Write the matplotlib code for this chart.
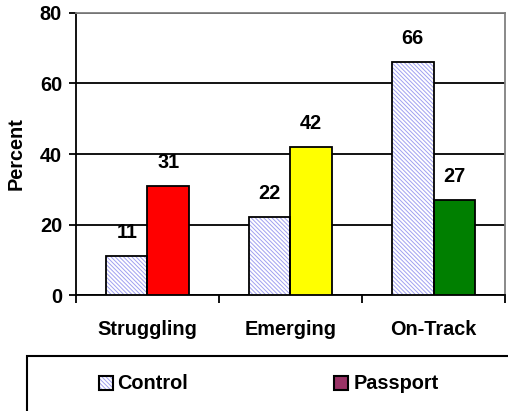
import numpy as np
import matplotlib
matplotlib.use("Agg")
import matplotlib.pyplot as plt
from matplotlib.patches import Rectangle

categories = ["Struggling", "Emerging", "On-Track"]
control = [11, 22, 66]
passport = [31, 42, 27]
passport_colors = ["#FF0000", "#FFFF00", "#007F00"]

plt.rcParams["font.family"] = ["Liberation Sans", "DejaVu Sans"]
plt.rcParams["font.weight"] = "bold"
plt.rcParams["hatch.linewidth"] = 0.7

FS = 14.3
HATCH_C = "#A0A0F0"

fig = plt.figure(figsize=(5.08, 4.11), dpi=100)
ax = fig.add_axes([0.1496, 0.2822, 0.8445, 0.6862])

x = np.arange(len(categories))
w = 0.29

# control bars: hatch drawn in light blue, outline drawn on top in black
ax.bar(x - w / 2, control, w, facecolor="white", edgecolor=HATCH_C,
       linewidth=0, hatch="\\\\\\\\\\\\\\\\", zorder=3)
ax.bar(x - w / 2, control, w, fill=False, edgecolor="black",
       linewidth=1.3, zorder=4)
ax.bar(x + w / 2, passport, w, color=passport_colors, edgecolor="black",
       linewidth=1.3, zorder=3)

for xi, v in zip(x - w / 2, control):
    ax.annotate(str(v), (xi, v), xytext=(0, 17), textcoords="offset points",
                ha="center", va="center", fontsize=FS, fontweight="bold")
for xi, v in zip(x + w / 2, passport):
    ax.annotate(str(v), (xi, v), xytext=(0, 17), textcoords="offset points",
                ha="center", va="center", fontsize=FS, fontweight="bold")

ax.set_xlim(-0.5, len(categories) - 0.5)
ax.set_ylim(0, 80)
ax.set_yticks([0, 20, 40, 60, 80])
ax.set_xticks(x)
ax.set_xticklabels(categories, fontsize=FS, fontweight="bold")
ax.set_xticks(np.arange(-0.5, len(categories)), minor=True)
ax.tick_params(axis="x", which="major", length=0, pad=18)
ax.tick_params(axis="x", which="minor", length=6, width=1.3, direction="out")
ax.tick_params(axis="y", length=5, width=1.3, labelsize=FS, pad=5)
for lab in ax.get_yticklabels():
    lab.set_fontweight("bold")

ax.grid(axis="y", color="black", linewidth=1.3, zorder=0)
ax.set_axisbelow(True)
ax.set_ylabel("Percent", fontsize=FS, fontweight="bold", labelpad=10)

ax.spines["left"].set_linewidth(1.3)
ax.spines["bottom"].set_linewidth(1.3)
ax.spines["top"].set_color("#808080")
ax.spines["right"].set_color("#808080")
ax.spines["top"].set_linewidth(1.3)
ax.spines["right"].set_linewidth(1.3)

# legend box, cut off by the figure edge
fig.patches.append(Rectangle((27 / 508, -0.2), 1.0, 0.2 + (411 - 356) / 411,
                             transform=fig.transFigure, fill=False,
                             edgecolor="black", linewidth=1.5))
fig.patches.append(Rectangle((99 / 508, 21 / 411), 14 / 508, 14 / 411,
                             transform=fig.transFigure, facecolor="white",
                             edgecolor=HATCH_C, linewidth=0,
                             hatch="\\\\\\\\\\\\\\\\"))
fig.patches.append(Rectangle((99 / 508, 21 / 411), 14 / 508, 14 / 411,
                             transform=fig.transFigure, fill=False,
                             edgecolor="black", linewidth=1.5))
fig.text(117 / 508, 28 / 411, "Control", fontsize=FS, fontweight="bold",
         va="center", ha="left")
fig.patches.append(Rectangle((334 / 508, 21 / 411), 14 / 508, 14 / 411,
                             transform=fig.transFigure, facecolor="#993366",
                             edgecolor="black", linewidth=1.5))
fig.text(354 / 508, 28 / 411, "Passport", fontsize=FS, fontweight="bold",
         va="center", ha="left")

fig.savefig("out.png", dpi=100)
